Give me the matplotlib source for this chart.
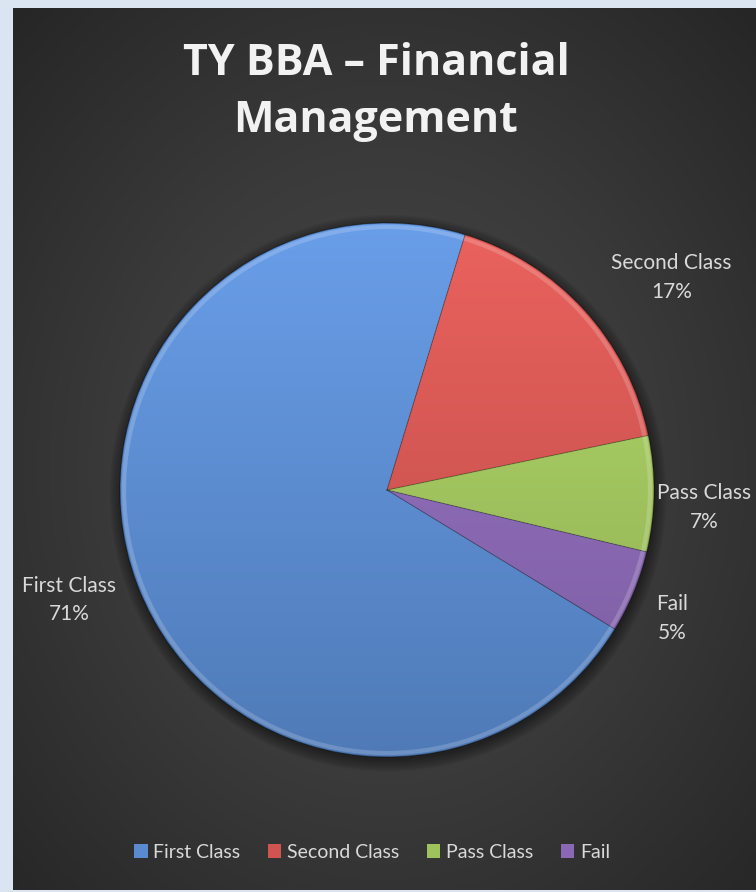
import numpy as np
import matplotlib
matplotlib.use('Agg')
import matplotlib.pyplot as plt
import matplotlib.colors as mcolors
from matplotlib.patches import Circle

# data
categories = ['First Class', 'Second Class', 'Pass Class', 'Fail']
shares = [71, 17, 7, 5]
title = 'TY BBA \u2013 Financial\nManagement'

# look
base_colors = ['#5a8bd0', '#d25450', '#9fc35c', '#8a68b4']
label_pos = [(199.1, 1.26), (36.7, 1.33), (-3.1, 1.19), (-24.3, 1.17)]  # (angle deg, radius)
W, H = 756, 892

plt.rcParams['font.family'] = ['Lato', 'DejaVu Sans']

fig = plt.figure(figsize=(W / 100, H / 100), dpi=100)
fig.patch.set_facecolor('#dbe5f1')

# dark panel with radial gradient
bg = fig.add_axes([13 / W, 2 / H, (W - 13) / W, (H - 10) / H])
yy, xx = np.mgrid[0:1:400j, 0:1:400j]
r = np.sqrt(((xx - 0.5) / 0.75) ** 2 + ((yy - 0.52) / 0.75) ** 2)
r = np.clip(r / r.max(), 0, 1)
cmap_bg = mcolors.LinearSegmentedColormap.from_list('bg', ['#4a4a4a', '#3a3a3a', '#262626'])
bg.imshow(r, cmap=cmap_bg, extent=[0, 1, 0, 1], aspect='auto', origin='upper')
bg.set_axis_off()

# pie axes: centre (387, 490), radius 267 px
cx, cy, R = 387, 490, 267
ax = fig.add_axes([(cx - R) / W, (H - cy - R) / H, 2 * R / W, 2 * R / H])

# soft shadow
for k in range(8):
    ax.add_patch(Circle((0.004, -0.012), 1.0 + 0.006 * k, color='black',
                        alpha=0.06, lw=0, zorder=0, clip_on=False))

# first slice starts where Fail ends (Excel goes clockwise from 12 o'clock)
start = 90 - (17 + (shares[1] + shares[2] + shares[3]) / 100 * 360)
wedges, _ = ax.pie(shares, colors=base_colors, startangle=start, counterclock=False,
                   radius=1.0, wedgeprops=dict(linewidth=0))
ax.set_xlim(-1, 1)
ax.set_ylim(-1, 1)
ax.set_aspect('equal')
ax.set_axis_off()

# vertical light gradient inside each wedge
grad = np.linspace(0, 1, 256).reshape(-1, 1)
for w, c in zip(wedges, base_colors):
    rgb = np.array(mcolors.to_rgb(c))
    top = np.clip(rgb * 1.08 + 0.03, 0, 1)
    bot = rgb * 0.88
    cm = mcolors.LinearSegmentedColormap.from_list('g', [top, bot])
    im = ax.imshow(grad, cmap=cm, extent=[-1, 1, -1, 1], aspect='auto',
                   origin='upper', zorder=1)
    im.set_clip_path(w)
    w.set_facecolor('none')
    w.set_zorder(2)

# outer bevel rim
ax.add_patch(Circle((0, 0), 0.985, fill=False, ec=(1, 1, 1, 0.18), lw=3, zorder=3))
ax.add_patch(Circle((0, 0), 1.0, fill=False, ec=(0, 0, 0, 0.35), lw=1, zorder=3,
                    clip_on=False))
# separators between slices
for w in wedges:
    a = np.deg2rad(w.theta1)
    ax.plot([0, np.cos(a)], [0, np.sin(a)], color=(0, 0, 0, 0.25), lw=0.8, zorder=3)

# data labels
for cat, val, (ang, dist) in zip(categories, shares, label_pos):
    a = np.deg2rad(ang)
    ax.text(dist * np.cos(a), dist * np.sin(a), f'{cat}\n{val}%', ha='center',
            va='center', color='#d9d9d9', fontsize=15, linespacing=1.55, clip_on=False)

# title
fig.text(376 / W, 1 - 92 / H, title, ha='center', va='center', color='#f2f2f2',
         fontsize=31, fontweight='bold', linespacing=1.45, family=['Open Sans', 'DejaVu Sans'])

# legend
handles = [plt.Rectangle((0, 0), 1, 1, fc=c, ec='none') for c in base_colors]
leg = fig.legend(handles, categories, loc='center', bbox_to_anchor=(372 / W, 1 - 852 / H),
                 ncol=4, frameon=False, fontsize=14, labelcolor='#d9d9d9',
                 handlelength=0.7, handleheight=0.7, handletextpad=0.3, columnspacing=1.4)

fig.savefig('out.png', dpi=100, facecolor=fig.get_facecolor())
